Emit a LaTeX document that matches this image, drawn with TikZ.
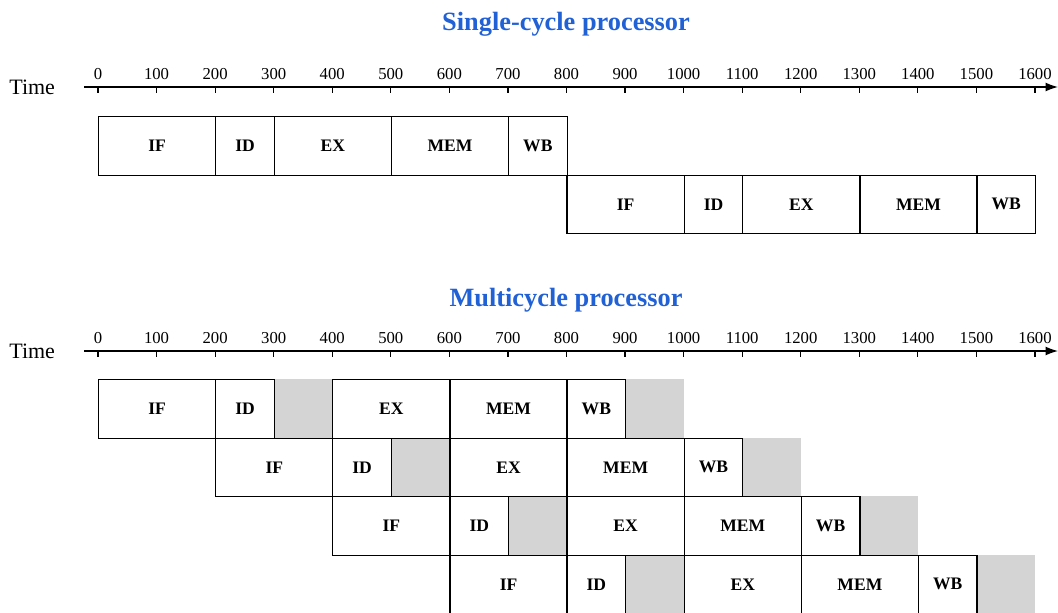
\documentclass[tikz,border=0pt]{standalone}
\usepackage{fontspec}
\setmainfont{Liberation Serif}
\usetikzlibrary{arrows.meta,positioning}
\definecolor{TitleClr}{rgb}{0.13,0.38,0.84}
\definecolor{StallClr}{gray}{0.83}

\tikzset{
  stagebox/.style={draw,line width=0.7pt,fill=white,anchor=north west,inner sep=0pt,
    minimum height=58.5*0.02cm,font=\fontsize{10}{12}\selectfont\bfseries},
  stallbox/.style={fill=StallClr,anchor=north west,inner sep=0pt,minimum height=58.5*0.02cm},
  ticklbl/.style={font=\fontsize{9.5}{10}\selectfont,inner sep=1pt},
  titlelbl/.style={font=\fontsize{15}{17}\selectfont\bfseries,text=TitleClr},
}
% time -> pixel column
\newcommand{\tx}[1]{98+0.5856*(#1)}

\begin{document}
\begin{tikzpicture}[x=0.02cm,y=-0.02cm]
\useasboundingbox (0,0) rectangle (1058,612);

% titles
\node[titlelbl] (tsc) at (566,24) {Single-cycle processor};
\node[titlelbl] (tmc) at (566,300) {Multicycle processor};

% time axes
\foreach \a/\y in {sc/87,mc/351}{
  \node[font=\fontsize{12.5}{14}\selectfont,anchor=west,inner sep=0pt] (time\a) at (9,\y) {Time};
  \coordinate (ax\a s) at (84,\y);
  \coordinate (ax\a e) at (1058,\y);
  \draw[line width=0.7pt,-{Latex[length=7pt,width=5pt]}] (ax\a s) -- (ax\a e);
  \foreach \t in {0,100,...,1600}{
    \draw[line width=0.7pt] ({\tx{\t}},\y) -- ++(0,6);
    \node[ticklbl] (tk\a\t) at ({\tx{\t}},\y-13) {\t};
  }
}

% single-cycle
\foreach \r/\s/\y in {1/0/116,2/800/174.5}
  \foreach \st/\o/\d in {IF/0/200,ID/200/100,EX/300/200,MEM/500/200,WB/700/100}
    \node[stagebox,minimum width=\d*0.011712cm] (sc\r\st) at ({\tx{\s+\o}},\y) {\st};

% multicycle: stalls first
\foreach \r/\s/\y in {1/0/379,2/200/437.5,3/400/496,4/600/554.5}{
  \node[stallbox,minimum width=100*0.011712cm] (mc\r stA) at ({\tx{\s+300}},\y) {};
  \node[stallbox,minimum width=100*0.011712cm] (mc\r stB) at ({\tx{\s+900}},\y) {};
}
\foreach \r/\s/\y in {1/0/379,2/200/437.5,3/400/496,4/600/554.5}
  \foreach \st/\o/\d in {IF/0/200,ID/200/100,EX/400/200,MEM/600/200,WB/800/100}
    \node[stagebox,minimum width=\d*0.011712cm] (mc\r\st) at ({\tx{\s+\o}},\y) {\st};

\end{tikzpicture}
\end{document}
